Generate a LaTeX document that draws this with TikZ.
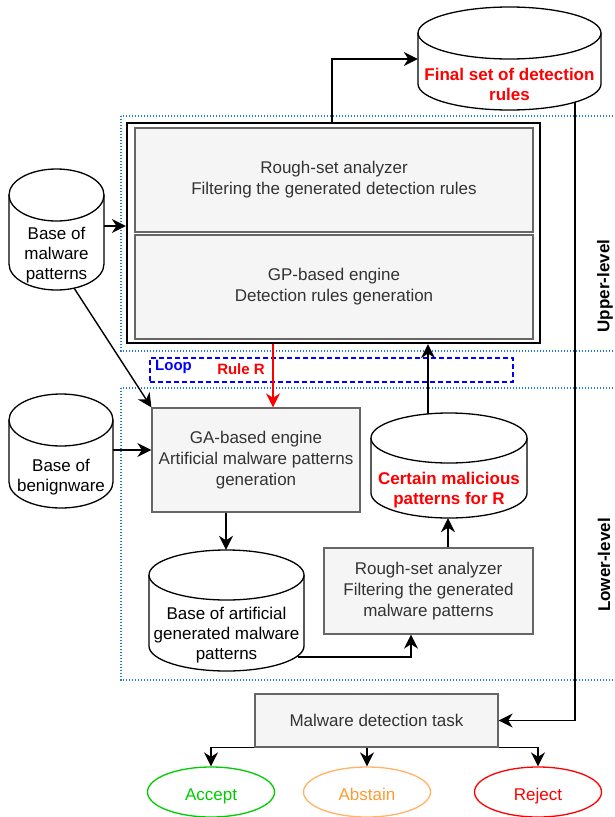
\documentclass[tikz,border=0pt]{standalone}
\usepackage{fontspec}
\setmainfont{Liberation Sans}
\usetikzlibrary{arrows.meta,calc,shapes.geometric}
\definecolor{boxfill}{HTML}{F5F5F5}
\definecolor{boxline}{HTML}{666666}
\definecolor{boxtext}{HTML}{333333}
\definecolor{dotblue}{HTML}{1F7AE0}
\definecolor{accgreen}{HTML}{00CC00}
\definecolor{absorange}{HTML}{FFB366}
\definecolor{abstext}{HTML}{FF9A33}
\newcommand\dbcyl[7]{% name, L, T, R, B, ry, text
  \node[inner sep=0pt, minimum width={(#4-#2)*1pt}, minimum height={(#5-#3)*1pt}] (#1) at ({(#2+#4)/2},{-(#3+#5)/2}) {};
  \filldraw[cylline] (#2,-#3-#6) -- (#2,-#5+#6)
     arc[start angle=180,end angle=360,x radius={(#4-#2)/2},y radius=#6]
     -- (#4,-#3-#6)
     arc[start angle=0,end angle=180,x radius={(#4-#2)/2},y radius=#6] -- cycle;
  \draw[cylline] (#2,-#3-#6) arc[start angle=180,end angle=360,x radius={(#4-#2)/2},y radius=#6];
  \node[cyltext] (#1-t) at ({(#2+#4)/2},{-(#3+2*#6+#5)/2}) {#7};
}
\tikzset{
  cylline/.style={draw=black, fill=white, line width=1.3pt},
  cyltext/.style={font=\fontsize{17}{20}\selectfont, align=center, inner sep=0pt, text=black},
  graybox/.style={draw=boxline, fill=boxfill, line width=1.3pt, text=boxtext, align=center,
     font=\fontsize{17}{21}\selectfont, inner sep=0pt},
  arr/.style={draw=black, line width=1.4pt, -{Stealth[length=14pt,width=14pt,inset=4.5pt]}},
  redarr/.style={arr, draw=red, -{Stealth[length=14pt,width=14pt,inset=4.5pt,fill=red]}},
  dotbox/.style={draw=dotblue, line width=1.3pt, dash pattern=on 1.3pt off 1.7pt},
  loopbox/.style={draw=blue, line width=1.4pt, dash pattern=on 5pt off 3pt},
  outcome/.style={draw, ellipse, line width=1.3pt, minimum width=127pt, minimum height=50pt,
     font=\fontsize{17}{21}\selectfont, inner sep=0pt, text height=12pt, text depth=3.5pt},
  levellabel/.style={font=\fontsize{17}{21}\selectfont\bfseries, rotate=90, inner sep=0pt}
}
\begin{document}
\begin{tikzpicture}[x=1pt,y=1pt]
\useasboundingbox (0,0) rectangle (614,-817);

% level frames
\draw[dotbox] (121,-116) rectangle (630,-351);
\draw[dotbox] (121,-388) rectangle (630,-680);
\node[levellabel] (upl) at (605,-286) {Upper-level};
\node[levellabel] (lowl) at (604,-565) {Lower-level};

% loop box
\node[loopbox, minimum width=363pt, minimum height=24pt, inner sep=0pt] (loop) at (331.5,-370) {};
\node[anchor=north west, inner sep=0pt, text=blue, font=\fontsize{15}{18}\selectfont\bfseries] (looplab) at (155,-360) {Loop};
\node[inner sep=0pt, text=red, font=\fontsize{15}{18}\selectfont\bfseries] (ruler) at (241,-369) {Rule R};

% upper level
\node[draw=black, line width=2.2pt, fill=white, minimum width=413pt, minimum height=220pt, inner sep=0pt] (outer) at (333.5,-233) {};
\node[graybox, minimum width=398pt, minimum height=104pt] (rs1) at (334,-180)
  {Rough-set analyzer\\Filtering the generated detection rules};
\node[graybox, minimum width=398pt, minimum height=104pt] (gp) at (334,-287)
  {GP-based engine\\Detection rules generation};

\dbcyl{fin}{418}{7}{601}{110}{26}{\textcolor{red}{\bfseries Final set of detection}\\\textcolor{red}{\bfseries rules}}
\dbcyl{malw}{9}{169}{104}{290}{26}{Base of\\malware\\patterns}
\dbcyl{ben}{9}{394}{113}{508}{26}{Base of\\benignware}
\dbcyl{cert}{371}{413}{527}{518}{25}{\textcolor{red}{\bfseries Certain malicious}\\\textcolor{red}{\bfseries patterns for R}}
\dbcyl{art}{149}{550}{304}{671}{25}{Base of artificial\\generated malware\\patterns}

% lower level boxes
\node[graybox, minimum width=208pt, minimum height=104pt] (ga) at (256,-460)
  {GA-based engine\\Artificial malware patterns\\generation};
\node[graybox, minimum width=209pt, minimum height=86pt] (rs2) at (428.5,-591)
  {Rough-set analyzer\\Filtering the generated\\malware patterns};
\node[graybox, minimum width=243pt, minimum height=53pt] (mdt) at (376.5,-720.5)
  {Malware detection task};

% outcomes
\node[outcome, draw=accgreen, text=accgreen] (acc) at (211,-792) {\raisebox{-4pt}{Accept}};
\node[outcome, draw=absorange, text=abstext] (abs) at (367,-792) {\raisebox{-4pt}{Abstain}};
\node[outcome, draw=red, text=red] (rej) at (538,-792) {\raisebox{-4pt}{Reject}};

% connectors
\coordinate (finb) at (575,-102);
\coordinate (malwb) at (74,-288);
\coordinate (certt) at (428,-414);
\coordinate (artb) at (298,-657);

\draw[arr] (outer.north -| 332,0) |- (fin.west |- 0,-59);
\draw[arr] (finb) |- (mdt.east);
\draw[arr] (malw.east |- 0,-226) -- (outer.west |- 0,-226);
\draw[arr] (malwb) -- (ga.north west);
\draw[arr] (ben.east |- 0,-450) -- (ga.west |- 0,-450);
\draw[redarr] (outer.south -| 273,0) -- (ga.north -| 273,0);
\draw[arr] (ga.south -| 226,0) -- (art.north -| 226,0);
\draw[arr] (certt) -- (outer.south -| certt);
\draw[arr] (rs2.north -| 448,0) -- (cert.south -| 448,0);
\draw[arr] (artb) -| (rs2.south -| 411,0);
\draw[arr] (mdt.south west) -| (acc.north);
\draw[arr] (mdt.south -| abs.north) -- (abs.north);
\draw[arr] (mdt.south east) -| (rej.north);
\end{tikzpicture}
\end{document}
